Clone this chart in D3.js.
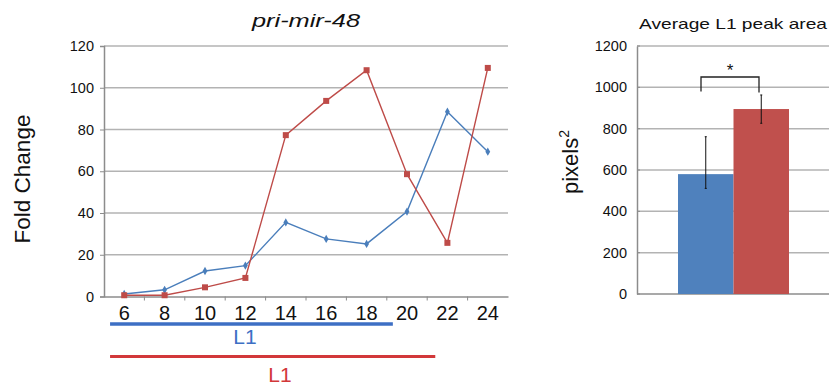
<!DOCTYPE html>
<html>
<head>
<meta charset="utf-8">
<script src="https://cdn.jsdelivr.net/npm/d3@7/dist/d3.min.js"></script>
<style>
  html, body { margin: 0; padding: 0; background: #fff; }
  svg { display: block; font-family: "Liberation Sans", Arial, sans-serif; }
</style>
</head>
<body>
<svg id="chart" width="829" height="389"></svg>
<script>
// Time course (hours) and fold change of pri-mir-48
const hours = [6, 8, 10, 12, 14, 16, 18, 20, 22, 24];
const blueFold = [1.2, 3.2, 12.2, 14.8, 35.5, 27.6, 25.2, 40.7, 88.5, 69.4];
const redFold = [0.6, 0.6, 4.4, 8.9, 77.3, 93.7, 108.4, 58.6, 25.7, 109.5];
const foldTicks = [0, 20, 40, 60, 80, 100, 120];

// L1 stage spans (hours) drawn under the time axis
const blueL1 = [5.3, 19.3];
const redL1 = [5.3, 21.4];

// Average L1 peak area (pixels^2) with error bars
const groups = ["blue", "red"];
const peakArea = [580, 895];
const errUpper = [181, 68];
const errLower = [69, 69];
const areaTicks = [0, 200, 400, 600, 800, 1000, 1200];

const BLUE = "#4a7ebb";
const RED = "#be4b48";
const BAR_BLUE = "#4f81bd";
const BAR_RED = "#c0504d";
const GRID = "#b3b3b3";
const AXIS = "#8c8c8c";
const FONT = "Liberation Sans, Arial, sans-serif";

const svg = d3.select("#chart");

// ---------- Line chart ----------
const L = { left: 104, right: 508, top: 46, bottom: 296.5 };
const x = d3.scaleBand().domain(hours).range([L.left, L.right]);
const y = d3.scaleLinear().domain([0, 120]).range([L.bottom, L.top]);
const xHour = d3.scaleLinear()
  .domain([hours[0], hours[hours.length - 1]])
  .range([x(hours[0]) + x.bandwidth() / 2, x(hours[hours.length - 1]) + x.bandwidth() / 2]);

const gl = svg.append("g");

// horizontal grid
gl.append("g")
  .selectAll("line")
  .data(foldTicks.filter(d => d > 0))
  .join("line")
  .attr("x1", L.left).attr("x2", L.right)
  .attr("y1", d => y(d)).attr("y2", d => y(d))
  .attr("stroke", GRID).attr("stroke-width", 1.5);

// y axis
const yAxisL = gl.append("g")
  .attr("transform", `translate(${L.left},0)`)
  .call(d3.axisLeft(y).tickValues(foldTicks).tickSize(4).tickPadding(6));
yAxisL.select(".domain").attr("stroke", AXIS).attr("stroke-width", 1.5);
yAxisL.selectAll(".tick line").attr("stroke", AXIS);
yAxisL.selectAll(".tick text")
  .attr("font-size", "14.5px").attr("fill", "#111")
  .attr("font-family", FONT);

// x axis
const xAxisL = gl.append("g")
  .attr("transform", `translate(0,${L.bottom})`)
  .call(d3.axisBottom(x).tickSize(0).tickPadding(9));
xAxisL.select(".domain").attr("stroke", AXIS).attr("stroke-width", 1.5);
xAxisL.selectAll(".tick text")
  .attr("font-size", "20px").attr("fill", "#111")
  .attr("font-family", FONT);
// tick marks on category boundaries
gl.append("g")
  .selectAll("line")
  .data(hours.slice(1))
  .join("line")
  .attr("x1", d => x(d)).attr("x2", d => x(d))
  .attr("y1", L.bottom).attr("y2", L.bottom + 4)
  .attr("stroke", AXIS);

// series
const line = d3.line()
  .x((d, i) => x(hours[i]) + x.bandwidth() / 2)
  .y(d => y(d));

gl.append("path").datum(blueFold)
  .attr("d", line).attr("fill", "none")
  .attr("stroke", BLUE).attr("stroke-width", 1.4);
gl.append("path").datum(redFold)
  .attr("d", line).attr("fill", "none")
  .attr("stroke", RED).attr("stroke-width", 1.4);

gl.append("g").selectAll("path")
  .data(blueFold)
  .join("path")
  .attr("d", d3.symbol(d3.symbolDiamond, 20))
  .attr("transform", (d, i) => `translate(${x(hours[i]) + x.bandwidth() / 2},${y(d)})`)
  .attr("fill", BLUE);
gl.append("g").selectAll("rect")
  .data(redFold)
  .join("rect")
  .attr("x", (d, i) => x(hours[i]) + x.bandwidth() / 2 - 3)
  .attr("y", d => y(d) - 3)
  .attr("width", 6).attr("height", 6)
  .attr("fill", RED);

// title
gl.append("text")
  .attr("x", 306).attr("y", 27)
  .attr("text-anchor", "middle")
  .attr("font-size", "19px").attr("font-style", "italic")
  .attr("fill", "#111")
  .attr("textLength", 108).attr("lengthAdjust", "spacingAndGlyphs")
  .text("pri-mir-48");

// y axis title
gl.append("text")
  .attr("transform", `translate(30,179) rotate(-90)`)
  .attr("text-anchor", "middle")
  .attr("font-size", "22.5px").attr("fill", "#111")
  .text("Fold Change");

// L1 stage bars
gl.append("line")
  .attr("x1", xHour(blueL1[0])).attr("x2", xHour(blueL1[1]))
  .attr("y1", 324).attr("y2", 324)
  .attr("stroke", "#3d6fc4").attr("stroke-width", 3.5);
gl.append("text")
  .attr("x", 245).attr("y", 344)
  .attr("text-anchor", "middle")
  .attr("font-size", "21px").attr("fill", "#3d6fc4")
  .text("L1");
gl.append("line")
  .attr("x1", xHour(redL1[0])).attr("x2", xHour(redL1[1]))
  .attr("y1", 356.5).attr("y2", 356.5)
  .attr("stroke", "#d2383a").attr("stroke-width", 3);
gl.append("text")
  .attr("x", 280).attr("y", 381.5)
  .attr("text-anchor", "middle")
  .attr("font-size", "21px").attr("fill", "#d2383a")
  .text("L1");

// ---------- Bar chart ----------
const B = { left: 637, right: 829, top: 46, bottom: 294 };
const yb = d3.scaleLinear().domain([0, 1200]).range([B.bottom, B.top]);
const xb = d3.scaleBand().domain(groups).range([678, 789]).padding(0);

const gb = svg.append("g");

gb.append("g")
  .selectAll("line")
  .data(areaTicks.filter(d => d > 0))
  .join("line")
  .attr("x1", B.left).attr("x2", B.right)
  .attr("y1", d => yb(d)).attr("y2", d => yb(d))
  .attr("stroke", GRID).attr("stroke-width", 1.5);

const yAxisB = gb.append("g")
  .attr("transform", `translate(${B.left},0)`)
  .call(d3.axisLeft(yb).tickValues(areaTicks).tickFormat(d3.format("d")).tickSize(0).tickPadding(10));
yAxisB.select(".domain").attr("stroke", AXIS).attr("stroke-width", 1.5);
yAxisB.selectAll(".tick text")
  .attr("font-size", "14.5px").attr("fill", "#111")
  .attr("font-family", FONT);
gb.append("g")
  .selectAll("line")
  .data(areaTicks)
  .join("line")
  .attr("x1", B.left).attr("x2", B.left + 3)
  .attr("y1", d => yb(d)).attr("y2", d => yb(d))
  .attr("stroke", AXIS);

gb.append("line")
  .attr("x1", B.left).attr("x2", B.right)
  .attr("y1", B.bottom).attr("y2", B.bottom)
  .attr("stroke", AXIS).attr("stroke-width", 1.5);

gb.append("g").selectAll("rect")
  .data(peakArea)
  .join("rect")
  .attr("x", (d, i) => xb(groups[i]))
  .attr("y", d => yb(d))
  .attr("width", xb.bandwidth())
  .attr("height", d => yb(0) - yb(d))
  .attr("fill", (d, i) => i === 0 ? BAR_BLUE : BAR_RED);

// error bars
const eb = gb.append("g").selectAll("g")
  .data(peakArea)
  .join("g");
eb.append("line")
  .attr("x1", (d, i) => xb(groups[i]) + xb.bandwidth() / 2)
  .attr("x2", (d, i) => xb(groups[i]) + xb.bandwidth() / 2)
  .attr("y1", (d, i) => yb(d + errUpper[i]))
  .attr("y2", (d, i) => yb(d - errLower[i]))
  .attr("stroke", "#111").attr("stroke-width", 1);
[errUpper, errLower].forEach((errs, k) => {
  eb.append("line")
    .attr("x1", (d, i) => xb(groups[i]) + xb.bandwidth() / 2 - 1)
    .attr("x2", (d, i) => xb(groups[i]) + xb.bandwidth() / 2 + 1)
    .attr("y1", (d, i) => yb(k === 0 ? d + errs[i] : d - errs[i]))
    .attr("y2", (d, i) => yb(k === 0 ? d + errs[i] : d - errs[i]))
    .attr("stroke", "#111").attr("stroke-width", 1);
});

// significance bracket
const bx1 = 701, bx2 = 759, byTop = yb(1050);
gb.append("path")
  .attr("d", `M${bx1},${yb(980)}V${byTop}H${bx2}V${yb(975)}`)
  .attr("fill", "none").attr("stroke", "#222").attr("stroke-width", 1.3);
gb.append("text")
  .attr("x", (bx1 + bx2) / 2).attr("y", 76)
  .attr("text-anchor", "middle")
  .attr("font-size", "17px").attr("fill", "#111")
  .text("*");

// titles
gb.append("text")
  .attr("x", 733).attr("y", 29)
  .attr("text-anchor", "middle")
  .attr("font-size", "15px").attr("fill", "#111")
  .attr("textLength", 188).attr("lengthAdjust", "spacingAndGlyphs")
  .text("Average L1 peak area");

const yl = gb.append("text")
  .attr("transform", `translate(578,162) rotate(-90)`)
  .attr("text-anchor", "middle")
  .attr("font-size", "22px").attr("fill", "#111");
yl.append("tspan").text("pixels");
yl.append("tspan").attr("font-size", "14px").attr("dy", "-9").text("2");
</script>
</body>
</html>
